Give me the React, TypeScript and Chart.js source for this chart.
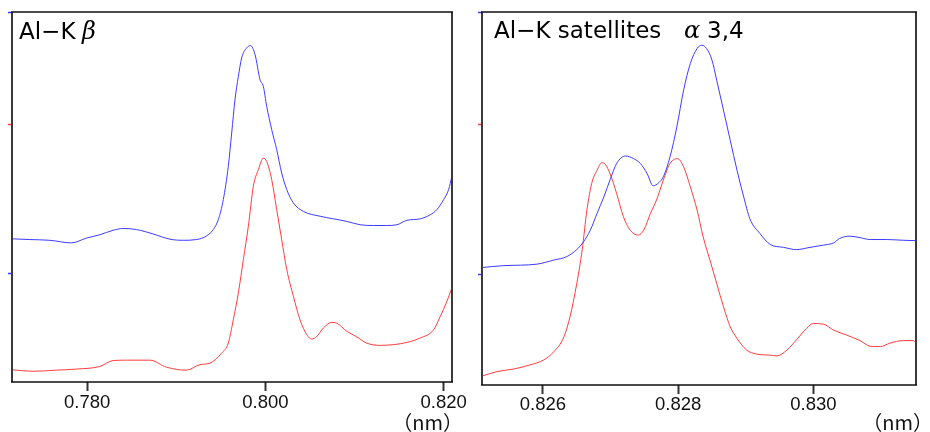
import React, { useEffect, useRef } from "react";
import { Chart, registerables } from "chart.js";

Chart.register(...registerables);

// ---------- data (wavelength in nm, intensity in arbitrary units 0–100) ----------
const leftXTicks = [0.78, 0.8, 0.82];
const leftYTicks = [100, 69.5, 29.3];

const leftBlueX = [0.77157, 0.77356, 0.77581, 0.77824, 0.77993, 0.78142, 0.78292, 0.78404, 0.78554, 0.78742, 0.78929, 0.79079, 0.79228, 0.79341, 0.79416, 0.79472, 0.79528, 0.79584, 0.79622, 0.79659, 0.79697, 0.79734, 0.7979, 0.79835, 0.79884, 0.7994, 0.79977, 0.80015, 0.80071, 0.80127, 0.80183, 0.8024, 0.80314, 0.80427, 0.80614, 0.80764, 0.80914, 0.81063, 0.81213, 0.81363, 0.81475, 0.81588, 0.81738, 0.8185, 0.81925, 0.82, 0.82056, 0.82093];
const leftBlueY = [38.7, 38.5, 38.3, 37.6, 38.9, 39.8, 41.0, 41.5, 41.2, 40.0, 38.6, 38.3, 38.5, 39.5, 41.2, 43.9, 49.3, 58.3, 67.3, 76.3, 82.6, 87.6, 90.3, 90.9, 88.5, 81.7, 79.9, 74.5, 68.2, 62.8, 56.5, 52.0, 48.4, 46.1, 44.8, 44.1, 43.4, 42.5, 42.3, 42.3, 42.5, 43.7, 44.1, 45.2, 46.6, 49.3, 52.0, 55.6];

const leftRedX = [0.77157, 0.77393, 0.77655, 0.7788, 0.78142, 0.78292, 0.78442, 0.78704, 0.78891, 0.79116, 0.79266, 0.79378, 0.79509, 0.79584, 0.7964, 0.79697, 0.79753, 0.79809, 0.79865, 0.79921, 0.79977, 0.80015, 0.80071, 0.80127, 0.80183, 0.8024, 0.80314, 0.80389, 0.80464, 0.8052, 0.80577, 0.80651, 0.80745, 0.80801, 0.80914, 0.81026, 0.81138, 0.81288, 0.81438, 0.81588, 0.81738, 0.81887, 0.81962, 0.82037, 0.82093];
const leftRedY = [3.3, 2.9, 3.2, 3.5, 4.2, 5.8, 5.9, 5.9, 4.0, 3.2, 4.7, 5.1, 7.8, 10.5, 16.8, 24.1, 33.1, 42.1, 52.9, 57.4, 60.5, 59.6, 54.7, 46.6, 38.5, 30.4, 23.2, 16.8, 12.8, 11.6, 12.3, 14.6, 16.1, 15.9, 13.7, 12.2, 10.5, 9.9, 10.1, 10.7, 11.9, 14.1, 17.7, 21.8, 25.4];

const rightXTicks = [0.826, 0.828, 0.83];
const rightYTicks = [100, 69.9, 29.7];

const rightBlueX = [0.8251, 0.82542, 0.82591, 0.82616, 0.82635, 0.8265, 0.8266, 0.8267, 0.8268, 0.8269, 0.827, 0.82709, 0.82722, 0.82734, 0.82744, 0.82754, 0.82763, 0.82771, 0.82778, 0.82788, 0.82798, 0.82808, 0.82818, 0.82828, 0.82835, 0.82842, 0.8285, 0.82857, 0.82867, 0.82877, 0.82887, 0.82897, 0.82906, 0.82921, 0.82936, 0.82956, 0.82975, 0.82995, 0.83015, 0.8303, 0.83039, 0.83054, 0.83069, 0.83084, 0.83108, 0.83133, 0.83152];
const rightBlueY = [31.5, 32.0, 32.4, 33.5, 34.4, 36.3, 38.4, 41.5, 46.0, 50.4, 55.4, 59.4, 61.4, 60.7, 59.4, 56.7, 53.4, 54.2, 55.8, 61.2, 69.2, 79.0, 86.2, 90.2, 91.1, 90.2, 87.1, 81.7, 73.7, 65.6, 57.6, 50.4, 44.6, 40.6, 37.7, 36.9, 36.3, 36.9, 37.5, 38.1, 39.3, 39.9, 39.5, 39.0, 39.0, 38.8, 38.7];

const rightRedX = [0.8251, 0.82532, 0.82557, 0.82581, 0.82601, 0.82616, 0.82631, 0.8264, 0.8265, 0.82658, 0.82665, 0.82672, 0.8268, 0.82687, 0.82692, 0.827, 0.82709, 0.82719, 0.82729, 0.82741, 0.82749, 0.82759, 0.82768, 0.82778, 0.82788, 0.82799, 0.82808, 0.82818, 0.82828, 0.82837, 0.82847, 0.82857, 0.82867, 0.82877, 0.82887, 0.82901, 0.82916, 0.82936, 0.82946, 0.82961, 0.82975, 0.8299, 0.83, 0.83015, 0.8303, 0.83049, 0.83069, 0.83084, 0.83099, 0.83113, 0.83133, 0.83148, 0.83152];
const rightRedY = [2.4, 3.6, 4.3, 5.4, 6.7, 8.9, 12.9, 18.3, 27.2, 36.2, 46.9, 54.0, 57.6, 59.6, 59.2, 56.3, 51.3, 45.1, 41.5, 40.2, 41.5, 46.0, 49.6, 54.9, 59.4, 60.7, 58.5, 53.1, 46.9, 39.7, 33.5, 27.2, 21.0, 15.6, 12.5, 9.4, 8.3, 8.0, 7.8, 9.4, 12.1, 15.2, 16.5, 16.3, 14.7, 13.4, 11.9, 10.4, 10.3, 11.2, 11.9, 11.9, 11.2];

const BLUE = "#3c3cff";
const RED = "#ff3c3c";
const TITLE_FONT = "23px 'DejaVu Sans'";
const GREEK_FONT = "italic 24px 'DejaVu Serif'";

type Seg = { text: string; x: number; font: string };

const panelTextPlugin = {
  id: "panelText",
  afterDraw(chart: any, _args: any, opts: any) {
    const { ctx, chartArea: a } = chart;
    ctx.save();
    // frame
    ctx.lineWidth = 2;
    ctx.strokeStyle = "#3a3a3a";
    ctx.beginPath();
    ctx.moveTo(a.left, a.top);
    ctx.lineTo(a.left, a.bottom);
    ctx.moveTo(a.right, a.top);
    ctx.lineTo(a.right, a.bottom);
    ctx.stroke();
    ctx.lineWidth = 1.5;
    ctx.strokeStyle = "#111";
    ctx.beginPath();
    ctx.moveTo(a.left - 1, a.top);
    ctx.lineTo(a.right + 1, a.top);
    ctx.moveTo(a.left - 1, a.bottom);
    ctx.lineTo(a.right + 1, a.bottom);
    ctx.stroke();
    // title
    ctx.fillStyle = "#000";
    ctx.textBaseline = "alphabetic";
    ctx.textAlign = "left";
    (opts.segments as Seg[]).forEach((s) => {
      ctx.font = s.font;
      ctx.fillText(s.text, s.x, opts.titleY);
    });
    // unit
    ctx.font = "20px 'Noto Sans CJK JP'";
    ctx.textAlign = "right";
    ctx.fillStyle = "#111";
    ctx.fillText("（nm）", opts.unitX, opts.unitY);
    ctx.restore();
  },
};

function toPoints(xs: number[], ys: number[]) {
  return xs.map((x, i) => ({ x, y: ys[i] }));
}

function buildConfig(p: any) {
  return {
    type: "line",
    data: {
      datasets: [
        {
          data: toPoints(p.blueX, p.blueY),
          borderColor: BLUE,
          borderWidth: 1,
          pointRadius: 0,
          cubicInterpolationMode: "monotone",
        },
        {
          data: toPoints(p.redX, p.redY),
          borderColor: RED,
          borderWidth: 1,
          pointRadius: 0,
          cubicInterpolationMode: "monotone",
        },
      ],
    },
    options: {
      responsive: false,
      animation: false,
      devicePixelRatio: 1,
      layout: { padding: { left: 0, top: p.padTop, right: p.padRight, bottom: 0 } },
      plugins: {
        legend: { display: false },
        tooltip: { enabled: false },
        panelText: {
          segments: p.segments,
          titleY: p.titleY,
          unitX: p.unitX,
          unitY: p.unitY,
        },
      },
      scales: {
        x: {
          type: "linear",
          min: p.xMin,
          max: p.xMax,
          afterBuildTicks: (s: any) => {
            s.ticks = p.xTicks.map((v: number) => ({ value: v }));
          },
          afterFit: (s: any) => {
            s.height = p.axisHeight;
          },
          border: { display: false },
          grid: {
            drawOnChartArea: false,
            tickLength: 9,
            tickColor: "#333",
            tickWidth: 2,
          },
          ticks: {
            padding: p.tickPad,
            color: "#111",
            maxRotation: 0,
            autoSkip: false,
            font: { family: "'Liberation Sans'", size: 18.5 },
            callback: (v: any) => Number(v).toFixed(3),
          },
        },
        y: {
          min: 0,
          max: 100,
          afterBuildTicks: (s: any) => {
            s.ticks = p.yTicks.map((v: number) => ({ value: v }));
          },
          afterFit: (s: any) => {
            s.width = 12;
          },
          border: { display: false },
          ticks: { display: false },
          grid: {
            drawOnChartArea: false,
            tickLength: 4,
            tickWidth: 1.5,
            tickColor: (c: any) => {
              const v = c.tick ? c.tick.value : 0;
              return Math.abs(v - p.yTicks[1]) < 0.01 ? RED : BLUE;
            },
          },
        },
      },
    },
    plugins: [panelTextPlugin],
  };
}

const leftConfig = () =>
  buildConfig({
    blueX: leftBlueX,
    blueY: leftBlueY,
    redX: leftRedX,
    redY: leftRedY,
    xMin: 0.77157,
    xMax: 0.82094,
    xTicks: leftXTicks,
    yTicks: leftYTicks,
    padTop: 12,
    padRight: 18,
    axisHeight: 50,
    tickPad: 1,
    titleY: 39,
    segments: [
      { text: "Al−K", x: 19, font: TITLE_FONT },
      { text: "β", x: 82, font: GREEK_FONT },
    ],
    unitX: 463,
    unitY: 430,
  });

const rightConfig = () =>
  buildConfig({
    blueX: rightBlueX,
    blueY: rightBlueY,
    redX: rightRedX,
    redY: rightRedY,
    xMin: 0.825098,
    xMax: 0.831518,
    xTicks: rightXTicks,
    yTicks: rightYTicks,
    padTop: 12,
    padRight: 14,
    axisHeight: 47,
    tickPad: 0,
    titleY: 37.5,
    segments: [
      { text: "Al−K satellites", x: 24, font: TITLE_FONT },
      { text: "α", x: 214, font: GREEK_FONT },
      { text: "3,4", x: 237, font: TITLE_FONT },
    ],
    unitX: 463,
    unitY: 430,
  });

function Panel({ left, width, make }: { left: number; width: number; make: () => any }) {
  const ref = useRef<HTMLCanvasElement>(null);
  useEffect(() => {
    const chart = new Chart(ref.current as HTMLCanvasElement, make());
    return () => chart.destroy();
  }, []);
  return (
    <div style={{ position: "absolute", left, top: 0, width, height: 432 }}>
      <canvas ref={ref} width={width} height={432} style={{ display: "block", width, height: 432 }} />
    </div>
  );
}

export default function App() {
  return (
    <div style={{ position: "fixed", left: 0, top: 0, width: 930, height: 432, background: "#fff" }}>
      <Panel left={0} width={470} make={leftConfig} />
      <Panel left={470} width={460} make={rightConfig} />
    </div>
  );
}
